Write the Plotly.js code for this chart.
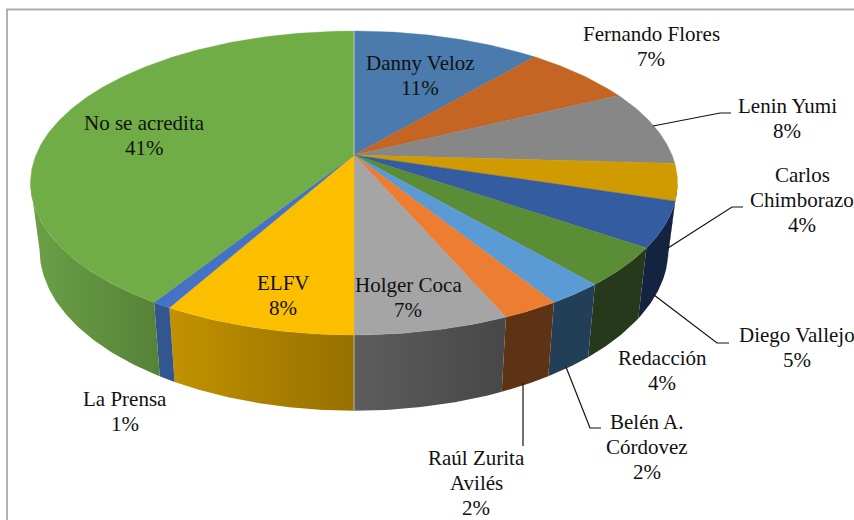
<!DOCTYPE html>
<html>
<head>
<meta charset="utf-8">
<script src="https://cdn.plot.ly/plotly-3.0.1.min.js"></script>
<style>html,body{margin:0;padding:0;background:#fff;overflow:hidden}#chart{width:854px;height:520px}</style>
</head>
<body>
<div id="chart"></div>
<script>
// ---------- data (clockwise from 12 o'clock) ----------
const categories = ["Danny Veloz","Fernando Flores","Lenin Yumi","Carlos<br>Chimborazo","Diego Vallejo","Redacción","Belén A.<br>Córdovez","Raúl Zurita<br>Avilés","Holger Coca","ELFV","La Prensa","No se acredita"];
const shares = [11.2,6.6,8.1,3.9,4.8,4.1,2.4,2.4,6.5,8.1,0.8,41.1];

// ---------- styles ----------
const topColors = ["#4a7bac","#c46524","#878787","#d09b00","#345ca0","#5b8c36","#5b9bd5","#ed7d31","#a5a5a5","#fcbf00","#4472c4","#70ad47"];
const wallLeft  = ["#2d4a68","#773d16","#525252","#14233f","#14233f","#26391a","#233f57","#5e3214","#5d5d5d","#c29200","#33568f","#6ba047"];
const wallRight = ["#2d4a68","#773d16","#525252","#14233f","#14233f","#26391a","#233f57","#5e3214","#474747","#967000","#33568f","#568238"];
const labelX = [420,651,787,802,797,662,646.5,476,408,283,125,144];
const labelY = [75.5,46.5,118.5,199.5,347.5,370.5,446.5,482.5,297.5,295.5,411.5,135.5];
const LINE_GAP = 25;
const FONT = "Liberation Serif, Times New Roman, serif";

// ---------- perspective projection of the pie disc ----------
const HUB_X = 354, HUB_Y = 155, SCALE_X = 318, SCALE_Y = 146.8, PERSP = 0.184;
const BASE_SX = 0.972, BASE_SY = 1.06, BASE_Y = 220;
function disc(t){                // t = share position in percent
  const a = t/100*2*Math.PI, X = Math.sin(a), Z = Math.cos(a), w = 1+PERSP*Z;
  return [SCALE_X*X/w, -SCALE_Y*Z/w];
}
function topPt(t){ const p = disc(t); return [HUB_X+p[0], HUB_Y+p[1]]; }
function basePt(t){ const p = disc(t); return [HUB_X+BASE_SX*p[0], BASE_Y+BASE_SY*p[1]]; }
function steps(a,b){ const n = Math.max(2,Math.ceil((b-a)*6)), o=[]; for(let i=0;i<=n;i++) o.push(a+(b-a)*i/n); return o; }

const silhouette = Math.acos(-PERSP)/(2*Math.PI)*100;
const cum = [0]; shares.forEach(v=>cum.push(cum[cum.length-1]+v));
const wallTraces = [], topTraces = [];
shares.forEach((v,i)=>{
  const a = cum[i], b = cum[i+1];
  const wa = Math.max(a,silhouette), wb = Math.min(b,100-silhouette);
  if (wb > wa){
    const ts = steps(wa,wb);
    const up = ts.map(topPt), lo = ts.slice().reverse().map(basePt);
    const pts = up.concat(lo); pts.push(up[0]);
    wallTraces.push({type:"scatter",mode:"lines",x:pts.map(p=>p[0]),y:pts.map(p=>p[1]),fill:"toself",
      line:{width:0,color:wallRight[i]},hoverinfo:"skip",
      fillgradient:{type:"horizontal",colorscale:[[0,wallLeft[i]],[1,wallRight[i]]]}});
  }
  const pts = steps(a,b).map(topPt);
  pts.unshift([HUB_X,HUB_Y]); pts.push([HUB_X,HUB_Y]);
  topTraces.push({type:"scatter",mode:"lines",x:pts.map(p=>p[0]),y:pts.map(p=>p[1]),fill:"toself",
    fillcolor:topColors[i],line:{width:0.4,color:topColors[i]},hoverinfo:"skip"});
});

// thin light seams along the vertical diameter
const seamTop = topPt(0), seamMid = topPt(cum[9]), seamBase = basePt(cum[9]);
const seam = {type:"scatter",mode:"lines",hoverinfo:"skip",
  x:[seamTop[0],HUB_X,null,seamMid[0],seamBase[0]],
  y:[seamTop[1],HUB_Y,null,seamMid[1],seamBase[1]],
  line:{color:"rgba(255,255,255,0.7)",width:0.8}};

const annotations = [];
categories.forEach((c,i)=>{
  const lines = c.split("<br>").concat([Math.round(shares[i])+"%"]);
  lines.forEach((t,k)=>annotations.push({
    xref:"x",yref:"y",x:labelX[i],y:labelY[i]+(k-(lines.length-1)/2)*LINE_GAP,
    showarrow:false,xanchor:"center",yanchor:"middle",text:t,
    font:{family:FONT,size:21,color:"#111"}
  }));
});

const leaders = ["M653,126 L720,113 L731,113","M668,248 L732,207 L743,207","M654,295 L717,343 L729,343","M566,367 L590,428 L601,428","M523,383 L523,446"];
const shapes = [{type:"rect",xref:"x",yref:"y",x0:7,y0:9.5,x1:880,y1:560,line:{color:"#ababab",width:1.8},layer:"below"}]
 .concat(leaders.map(p=>({type:"path",xref:"x",yref:"y",path:p,line:{color:"#111",width:1.2},layer:"above"})));

Plotly.newPlot("chart",wallTraces.concat(topTraces,[seam]),{
  width:854,height:520,margin:{l:0,r:0,t:0,b:0},showlegend:false,
  paper_bgcolor:"#fff",plot_bgcolor:"#fff",
  xaxis:{range:[0,854],visible:false,fixedrange:true},
  yaxis:{range:[520,0],visible:false,fixedrange:true},
  annotations:annotations,shapes:shapes
},{displayModeBar:false,staticPlot:true});
</script>
</body>
</html>
